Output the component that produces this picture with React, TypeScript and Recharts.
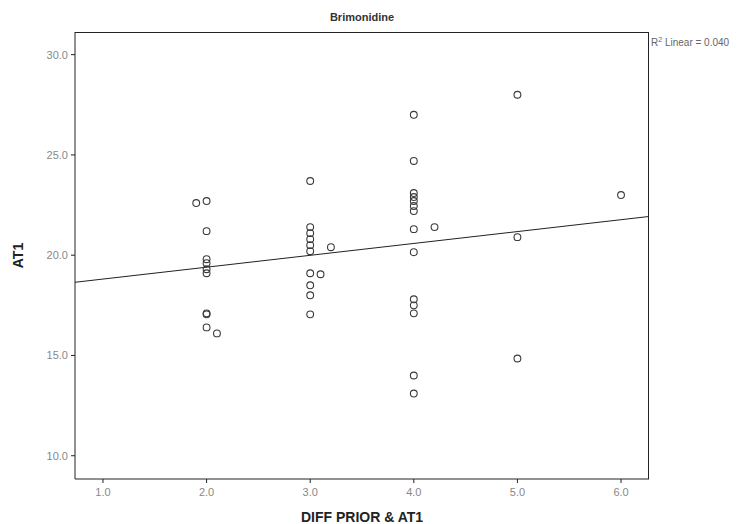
import React from 'react'
import {
  ScatterChart,
  Scatter,
  XAxis,
  YAxis,
  ReferenceLine,
} from 'recharts'

type Pt = { x: number; y: number }

// grouped by DIFF PRIOR & AT1 value
const diff2: Pt[] = [
  { x: 2, y: 22.7 },
  { x: 1.9, y: 22.6 },
  { x: 2, y: 21.2 },
  { x: 2, y: 19.8 },
  { x: 2, y: 19.6 },
  { x: 2, y: 19.3 },
  { x: 2, y: 19.1 },
  { x: 2, y: 17.1 },
  { x: 2, y: 17.05 },
  { x: 2, y: 16.4 },
  { x: 2.1, y: 16.1 },
]

const diff3: Pt[] = [
  { x: 3, y: 23.7 },
  { x: 3, y: 21.4 },
  { x: 3, y: 21.1 },
  { x: 3, y: 20.8 },
  { x: 3, y: 20.5 },
  { x: 3, y: 20.2 },
  { x: 3.2, y: 20.4 },
  { x: 3, y: 19.1 },
  { x: 3.1, y: 19.05 },
  { x: 3, y: 18.5 },
  { x: 3, y: 18.0 },
  { x: 3, y: 17.05 },
]

const diff4: Pt[] = [
  { x: 4, y: 27.0 },
  { x: 4, y: 24.7 },
  { x: 4, y: 23.1 },
  { x: 4, y: 22.9 },
  { x: 4, y: 22.7 },
  { x: 4, y: 22.45 },
  { x: 4, y: 22.2 },
  { x: 4, y: 21.3 },
  { x: 4.2, y: 21.4 },
  { x: 4, y: 20.15 },
  { x: 4, y: 17.8 },
  { x: 4, y: 17.5 },
  { x: 4, y: 17.1 },
  { x: 4, y: 14.0 },
  { x: 4, y: 13.1 },
]

const diff5and6: Pt[] = [
  { x: 5, y: 28.0 },
  { x: 5, y: 20.9 },
  { x: 5, y: 14.85 },
  { x: 6, y: 23.0 },
]

const points = [...diff2, ...diff3, ...diff4, ...diff5and6]

// fit line endpoints at the frame edges
const fitLine: Pt[] = [
  { x: 0.73, y: 18.65 },
  { x: 6.27, y: 21.93 },
]

const xTicks = [1, 2, 3, 4, 5, 6]
const yTicks = [10, 15, 20, 25, 30]

const font = 'Arial, "Liberation Sans", sans-serif'

const OpenCircle = (props: any) => (
  <circle cx={props.cx} cy={props.cy} r={3.4} fill="none" stroke="#3a3a3a" strokeWidth={1.1} />
)

export default function App() {
  return (
    <div style={{ position: 'relative', width: 740, height: 516, fontFamily: font }}>
      <div
        style={{
          position: 'absolute',
          left: 0,
          width: 708,
          top: 3,
          textAlign: 'center',
          fontSize: 11,
          fontWeight: 700,
          color: '#333',
        }}
      >
        Brimonidine
      </div>
      <div
        style={{
          position: 'absolute',
          left: 643,
          top: 28,
          fontSize: 10,
          color: '#666',
          whiteSpace: 'nowrap',
        }}
      >
        R<sup style={{ fontSize: 7 }}>2</sup> Linear = 0.040
      </div>
      {/* plot frame (top and right edges) */}
      <div
        style={{
          position: 'absolute',
          left: 67,
          top: 24,
          width: 573,
          height: 446,
          borderTop: '1px solid #222',
          borderRight: '1px solid #222',
          pointerEvents: 'none',
        }}
      />
      <ScatterChart
        width={740}
        height={516}
        margin={{ top: 24, right: 99, bottom: 0, left: 0 }}
        style={{ fontFamily: font }}
      >
        <XAxis
          type="number"
          dataKey="x"
          domain={[0.73, 6.27]}
          ticks={xTicks}
          tickFormatter={(v: number) => v.toFixed(1)}
          height={45}
          allowDataOverflow
          stroke="#222"
          tickSize={4}
          tickMargin={5}
          tick={{ fill: '#888', fontSize: 11 }}
          label={{
            value: 'DIFF PRIOR & AT1',
            position: 'insideBottom',
            offset: 2,
            style: { fill: '#222', fontSize: 14, fontWeight: 700 },
          }}
        />
        <YAxis
          type="number"
          dataKey="y"
          domain={[8.84, 31.13]}
          ticks={yTicks}
          tickFormatter={(v: number) => v.toFixed(1)}
          width={67}
          allowDataOverflow
          stroke="#222"
          tickSize={4}
          tickMargin={3}
          tick={{ fill: '#888', fontSize: 11 }}
          label={{
            value: 'AT1',
            angle: -90,
            position: 'center',
            dx: -23,
            style: { fill: '#222', fontSize: 14, fontWeight: 700 },
          }}
        />
        <ReferenceLine
          segment={fitLine}
          stroke="#222"
          strokeWidth={1}
          ifOverflow="extendDomain"
        />
        <Scatter data={points} shape={OpenCircle} isAnimationActive={false} />
      </ScatterChart>
    </div>
  )
}
